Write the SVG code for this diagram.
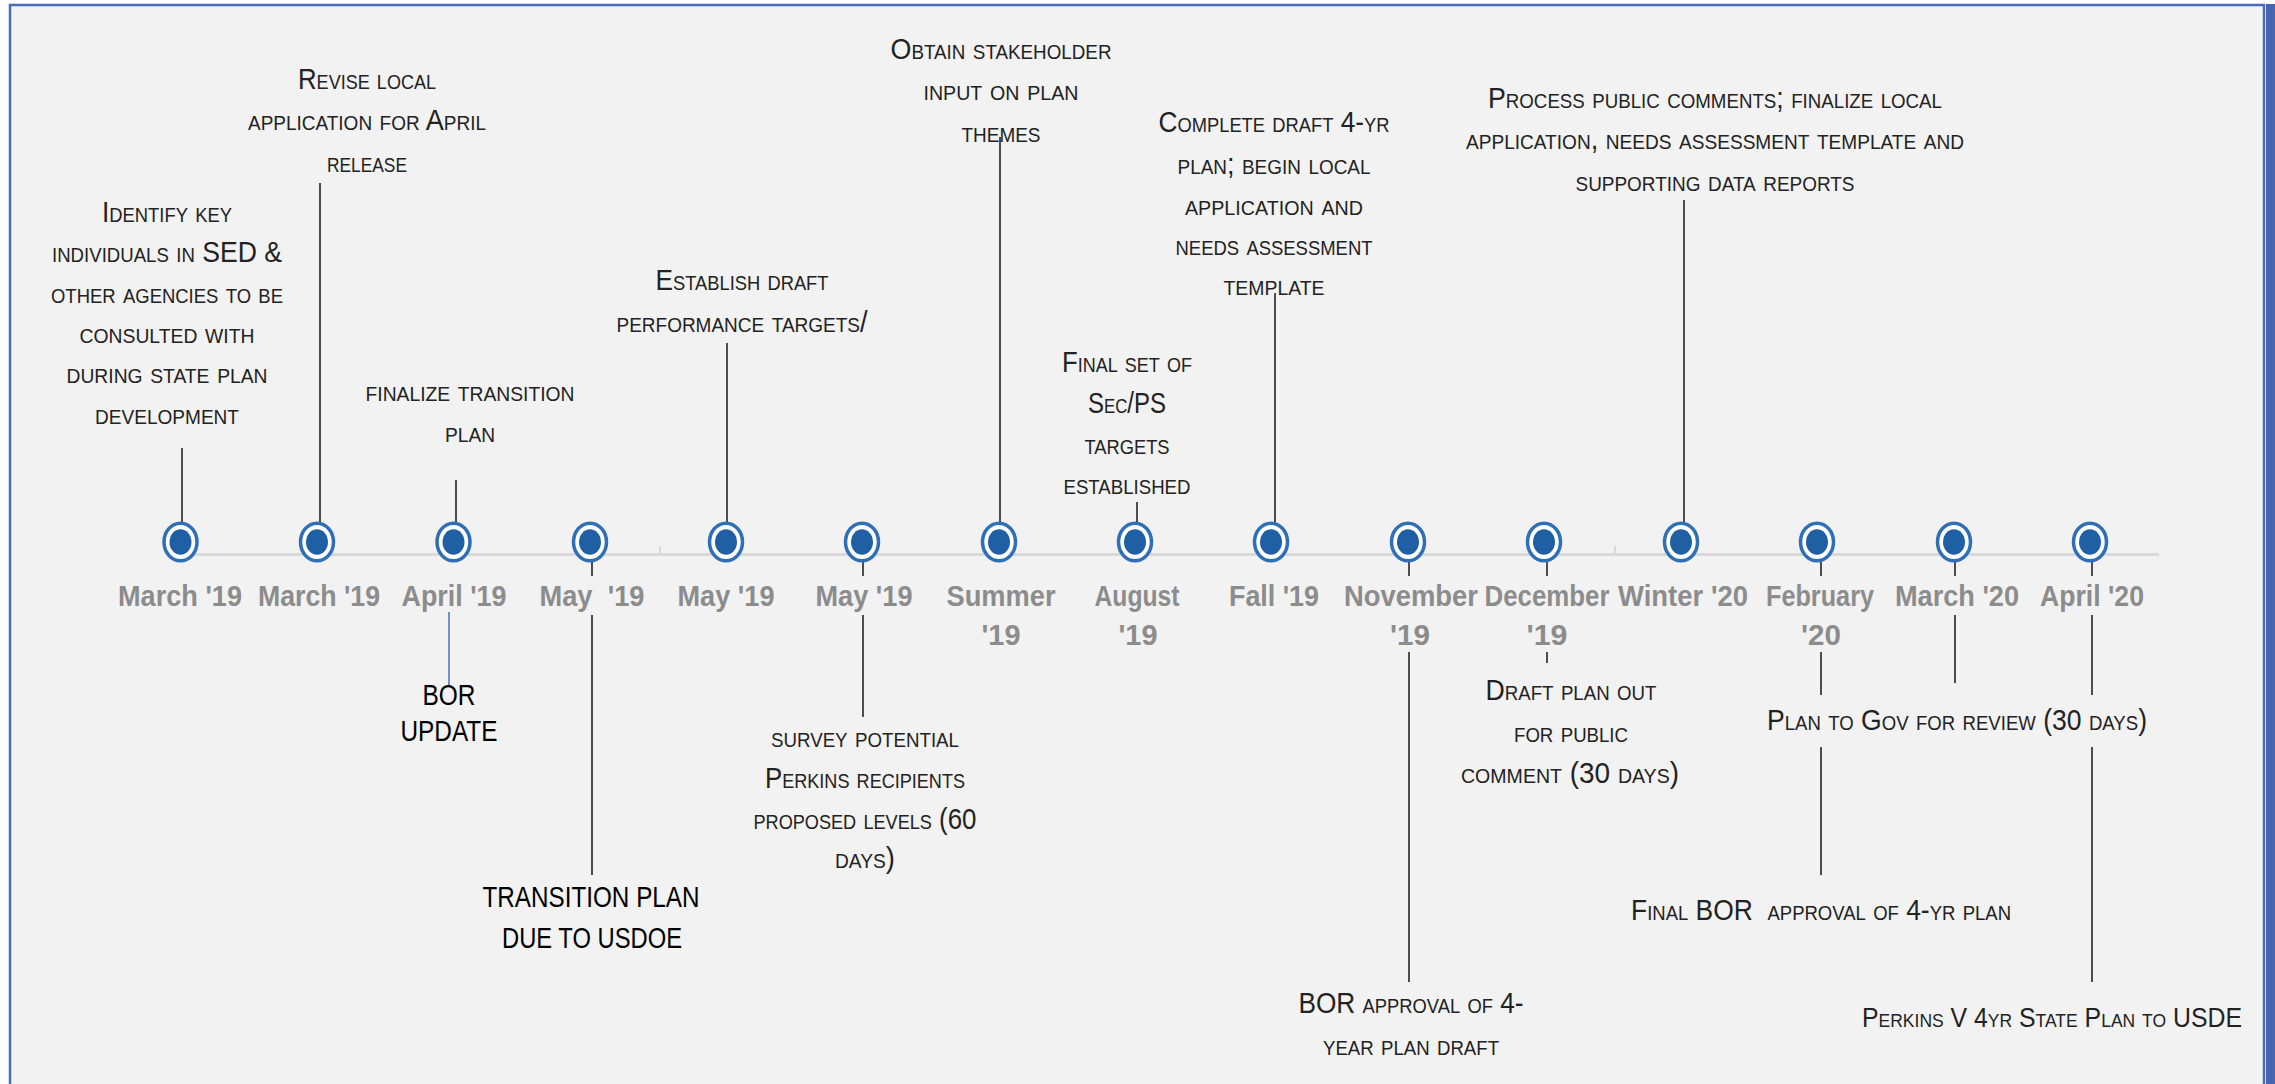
<svg xmlns="http://www.w3.org/2000/svg" width="2275" height="1084" viewBox="0 0 2275 1084">
<defs>
<style>
.d{font-family:"Liberation Sans",Arial,sans-serif;font-size:30px;font-variant:small-caps;fill:#222;text-anchor:middle}
.p{font-family:"Liberation Sans",Arial,sans-serif;font-size:29px;fill:#000;text-anchor:middle}
.t{font-family:"Liberation Sans",Arial,sans-serif;font-size:29px;font-weight:bold;fill:#8c8c8c;text-anchor:middle}
.ln{stroke:#4d4d4d;stroke-width:2;fill:none}
.ring{fill:#fff;stroke:#2f6fb7;stroke-width:3.5}
.dot{fill:#1f5fa3}
</style>
<g id="marker">
<ellipse class="ring" cx="0" cy="0" rx="16.5" ry="18.8"/>
<ellipse class="dot" cx="0" cy="0" rx="11" ry="12.8"/>
</g>
</defs>
<rect x="0" y="0" width="2275" height="1084" fill="#ffffff"/>
<rect id="frame" x="10" y="5" width="2254" height="1100" fill="#f2f2f2" stroke="#4a6bb8" stroke-width="2.5"/>
<rect x="2266" y="4" width="9" height="1080" fill="#4a65b0"/>
<g id="axis">
<line x1="183" y1="554.5" x2="2159" y2="554.5" stroke="#d9d9d9" stroke-width="3"/>
<line x1="660" y1="546" x2="660" y2="554" stroke="#d9d9d9" stroke-width="2"/>
<line x1="1615" y1="546" x2="1615" y2="554" stroke="#d9d9d9" stroke-width="2"/>
</g>
<g id="connectors">
<line class="ln" x1="182" y1="448" x2="182" y2="542"/>
<line class="ln" x1="320" y1="183" x2="320" y2="542"/>
<line class="ln" x1="456" y1="480" x2="456" y2="542"/>
<line x1="449" y1="612" x2="449" y2="685" stroke="#4472c4" stroke-width="1.5"/>
<line class="ln" x1="592" y1="542" x2="592" y2="576"/>
<line class="ln" x1="592" y1="615" x2="592" y2="875"/>
<line class="ln" x1="727" y1="343" x2="727" y2="542"/>
<line class="ln" x1="863" y1="542" x2="863" y2="576"/>
<line class="ln" x1="863" y1="615" x2="863" y2="717"/>
<line class="ln" x1="1000" y1="137" x2="1000" y2="542"/>
<line class="ln" x1="1137" y1="502" x2="1137" y2="542"/>
<line class="ln" x1="1275" y1="293" x2="1275" y2="542"/>
<line class="ln" x1="1409" y1="542" x2="1409" y2="576"/>
<line class="ln" x1="1409" y1="652" x2="1409" y2="982"/>
<line class="ln" x1="1547" y1="542" x2="1547" y2="576"/>
<line class="ln" x1="1547" y1="652" x2="1547" y2="663"/>
<line class="ln" x1="1684" y1="200" x2="1684" y2="542"/>
<line class="ln" x1="1821" y1="542" x2="1821" y2="576"/>
<line class="ln" x1="1821" y1="652" x2="1821" y2="695"/>
<line class="ln" x1="1821" y1="747" x2="1821" y2="875"/>
<line class="ln" x1="1955" y1="542" x2="1955" y2="576"/>
<line class="ln" x1="1955" y1="615" x2="1955" y2="683"/>
<line class="ln" x1="2092" y1="542" x2="2092" y2="576"/>
<line class="ln" x1="2092" y1="615" x2="2092" y2="695"/>
<line class="ln" x1="2092" y1="747" x2="2092" y2="982"/>
</g>
<g id="m01">
<use href="#marker" x="180.5" y="542"/>
<text class="t" x="180" y="606" textLength="124" lengthAdjust="spacingAndGlyphs">March '19</text>
<text class="d" x="167" y="222" textLength="130" lengthAdjust="spacingAndGlyphs">Identify key</text>
<text class="d" x="167" y="262" textLength="230" lengthAdjust="spacingAndGlyphs">individuals in SED &amp;</text>
<text class="d" x="167" y="303" textLength="232" lengthAdjust="spacingAndGlyphs">other agencies to be</text>
<text class="d" x="167" y="343" textLength="175" lengthAdjust="spacingAndGlyphs">consulted with</text>
<text class="d" x="167" y="383" textLength="201" lengthAdjust="spacingAndGlyphs">during state plan</text>
<text class="d" x="167" y="424" textLength="144" lengthAdjust="spacingAndGlyphs">development</text>
</g>
<g id="m02">
<use href="#marker" x="317" y="542"/>
<text class="t" x="319" y="606" textLength="122" lengthAdjust="spacingAndGlyphs">March '19</text>
<text class="d" x="367" y="89" textLength="138" lengthAdjust="spacingAndGlyphs">Revise local</text>
<text class="d" x="367" y="130" textLength="238" lengthAdjust="spacingAndGlyphs">application for April</text>
<text class="d" x="367" y="172" textLength="80" lengthAdjust="spacingAndGlyphs">release</text>
</g>
<g id="m03">
<use href="#marker" x="453.5" y="542"/>
<text class="t" x="454" y="606" textLength="105" lengthAdjust="spacingAndGlyphs">April '19</text>
<text class="d" x="470" y="401" textLength="209" lengthAdjust="spacingAndGlyphs">finalize transition</text>
<text class="d" x="470" y="442" textLength="50" lengthAdjust="spacingAndGlyphs">plan</text>
<text class="p" x="449" y="705" textLength="53" lengthAdjust="spacingAndGlyphs">BOR</text>
<text class="p" x="449" y="741" textLength="97" lengthAdjust="spacingAndGlyphs">UPDATE</text>
</g>
<g id="m04">
<use href="#marker" x="590" y="542"/>
<text class="t" x="592" y="606" textLength="105" lengthAdjust="spacingAndGlyphs" xml:space="preserve">May  '19</text>
<text class="p" x="591" y="907" textLength="217" lengthAdjust="spacingAndGlyphs">TRANSITION PLAN</text>
<text class="p" x="592" y="948" textLength="180" lengthAdjust="spacingAndGlyphs">DUE TO USDOE</text>
</g>
<g id="m05">
<use href="#marker" x="726" y="542"/>
<text class="t" x="726" y="606" textLength="97" lengthAdjust="spacingAndGlyphs">May '19</text>
<text class="d" x="742" y="290" textLength="173" lengthAdjust="spacingAndGlyphs">Establish draft</text>
<text class="d" x="742" y="332" textLength="251" lengthAdjust="spacingAndGlyphs">performance targets/</text>
</g>
<g id="m06">
<use href="#marker" x="862" y="542"/>
<text class="t" x="864" y="606" textLength="97" lengthAdjust="spacingAndGlyphs">May '19</text>
<text class="d" x="865" y="747" textLength="188" lengthAdjust="spacingAndGlyphs">survey potential</text>
<text class="d" x="865" y="788" textLength="200" lengthAdjust="spacingAndGlyphs">Perkins recipients</text>
<text class="d" x="865" y="829" textLength="223" lengthAdjust="spacingAndGlyphs">proposed levels (60</text>
<text class="d" x="865" y="868" textLength="60" lengthAdjust="spacingAndGlyphs">days)</text>
</g>
<g id="m07">
<use href="#marker" x="999" y="542"/>
<text class="t" x="1001" y="606" textLength="109" lengthAdjust="spacingAndGlyphs">Summer</text>
<text class="t" x="1001" y="645" textLength="39" lengthAdjust="spacingAndGlyphs">'19</text>
<text class="d" x="1001" y="59" textLength="221" lengthAdjust="spacingAndGlyphs">Obtain stakeholder</text>
<text class="d" x="1001" y="100" textLength="155" lengthAdjust="spacingAndGlyphs">input on plan</text>
<text class="d" x="1001" y="142" textLength="79" lengthAdjust="spacingAndGlyphs">themes</text>
</g>
<g id="m08">
<use href="#marker" x="1135" y="542"/>
<text class="t" x="1137" y="606" textLength="85" lengthAdjust="spacingAndGlyphs">August</text>
<text class="t" x="1138" y="645" textLength="39" lengthAdjust="spacingAndGlyphs">'19</text>
<text class="d" x="1127" y="372" textLength="130" lengthAdjust="spacingAndGlyphs">Final set of</text>
<text class="d" x="1127" y="413" textLength="78" lengthAdjust="spacingAndGlyphs">Sec/PS</text>
<text class="d" x="1127" y="454" textLength="85" lengthAdjust="spacingAndGlyphs">targets</text>
<text class="d" x="1127" y="494" textLength="127" lengthAdjust="spacingAndGlyphs">established</text>
</g>
<g id="m09">
<use href="#marker" x="1271" y="542"/>
<text class="t" x="1274" y="606" textLength="90" lengthAdjust="spacingAndGlyphs">Fall '19</text>
<text class="d" x="1274" y="132" textLength="231" lengthAdjust="spacingAndGlyphs">Complete draft 4-yr</text>
<text class="d" x="1274" y="174" textLength="193" lengthAdjust="spacingAndGlyphs">plan; begin local</text>
<text class="d" x="1274" y="215" textLength="178" lengthAdjust="spacingAndGlyphs">application and</text>
<text class="d" x="1274" y="255" textLength="197" lengthAdjust="spacingAndGlyphs">needs assessment</text>
<text class="d" x="1274" y="295" textLength="101" lengthAdjust="spacingAndGlyphs">template</text>
</g>
<g id="m10">
<use href="#marker" x="1408" y="542"/>
<text class="t" x="1411" y="606" textLength="134" lengthAdjust="spacingAndGlyphs">November</text>
<text class="t" x="1410" y="645" textLength="40" lengthAdjust="spacingAndGlyphs">'19</text>
<text class="d" x="1411" y="1013" textLength="225" lengthAdjust="spacingAndGlyphs">BOR approval of 4-</text>
<text class="d" x="1411" y="1055" textLength="176" lengthAdjust="spacingAndGlyphs">year plan draft</text>
</g>
<g id="m11">
<use href="#marker" x="1544" y="542"/>
<text class="t" x="1547" y="606" textLength="125" lengthAdjust="spacingAndGlyphs">December</text>
<text class="t" x="1547" y="645" textLength="41" lengthAdjust="spacingAndGlyphs">'19</text>
<text class="d" x="1571" y="700" textLength="171" lengthAdjust="spacingAndGlyphs">Draft plan out</text>
<text class="d" x="1571" y="742" textLength="114" lengthAdjust="spacingAndGlyphs">for public</text>
<text class="d" x="1570" y="783" textLength="218" lengthAdjust="spacingAndGlyphs">comment (30 days)</text>
</g>
<g id="m12">
<use href="#marker" x="1681" y="542"/>
<text class="t" x="1683" y="606" textLength="130" lengthAdjust="spacingAndGlyphs">Winter '20</text>
<text class="d" x="1715" y="108" textLength="454" lengthAdjust="spacingAndGlyphs">Process public comments; finalize local</text>
<text class="d" x="1715" y="149" textLength="498" lengthAdjust="spacingAndGlyphs">application, needs assessment template and</text>
<text class="d" x="1715" y="191" textLength="279" lengthAdjust="spacingAndGlyphs">supporting data reports</text>
</g>
<g id="m13">
<use href="#marker" x="1817" y="542"/>
<text class="t" x="1820" y="606" textLength="108" lengthAdjust="spacingAndGlyphs">February</text>
<text class="t" x="1821" y="645" textLength="40" lengthAdjust="spacingAndGlyphs">'20</text>
<text class="d" x="1821" y="920" textLength="380" lengthAdjust="spacingAndGlyphs" xml:space="preserve">Final BOR  approval of 4-yr plan</text>
</g>
<g id="m14">
<use href="#marker" x="1954" y="542"/>
<text class="t" x="1957" y="606" textLength="124" lengthAdjust="spacingAndGlyphs">March '20</text>
<text class="d" x="1957" y="730" textLength="380" lengthAdjust="spacingAndGlyphs">Plan to Gov for review (30 days)</text>
</g>
<g id="m15">
<use href="#marker" x="2090" y="542"/>
<text class="t" x="2092" y="606" textLength="104" lengthAdjust="spacingAndGlyphs">April '20</text>
<text class="d" x="2052" y="1027" textLength="380" lengthAdjust="spacingAndGlyphs" style="font-size:27px">Perkins V 4yr State Plan to USDE</text>
</g>
</svg>
